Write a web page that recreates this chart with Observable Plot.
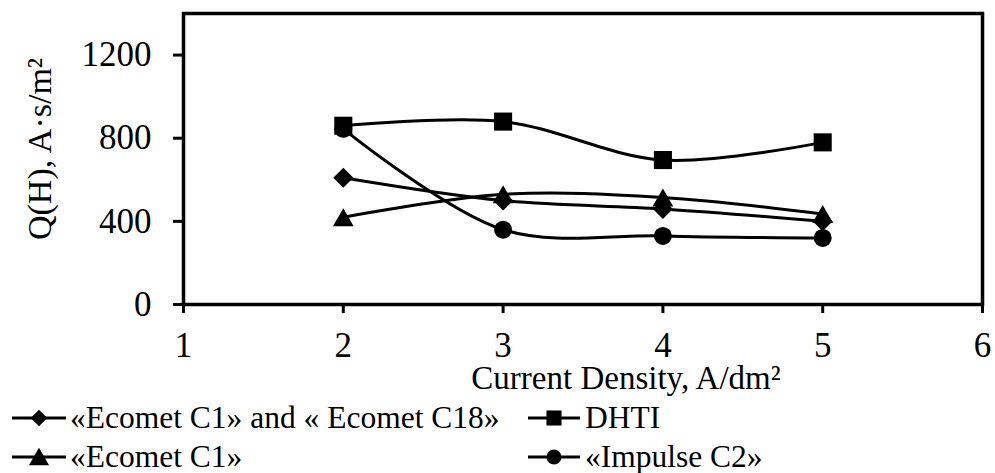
<!DOCTYPE html>
<html>
<head>
<meta charset="utf-8">
<script src="https://cdn.jsdelivr.net/npm/d3@7"></script>
<script src="https://cdn.jsdelivr.net/npm/@observablehq/plot@0.6"></script>
<style>
  html, body { margin: 0; padding: 0; background: #fff; }
  #chart { position: relative; width: 995px; height: 473px; color: #000; }
  #chart svg.plot { position: absolute; left: 0; top: 0; }
  .legend-item { position: absolute; height: 32px; }
  .legend-item svg { position: absolute; left: 0; top: 0; overflow: visible; }
  .legend-item span { position: absolute; top: 0; font-family: "Liberation Serif", "Times New Roman", serif; font-size: 31.5px; line-height: 32px; white-space: pre; }
</style>
</head>
<body>
<div id="chart"></div>
<script>
// Current density, A/dm²
const currentDensity = [2, 3, 4, 5];
// Q(H), A·s/m² for each electrolyte
const ecometC1C18 = [610, 500, 460, 400];
const dhti = [860, 880, 695, 780];
const ecometC1 = [420, 530, 515, 435];
const impulseC2 = [845, 360, 330, 320];

const seriesNames = ["«Ecomet C1» and « Ecomet C18»", "DHTI", "«Ecomet C1»", "«Impulse C2»"];
const xTicks = [1, 2, 3, 4, 5, 6];
const yTicks = [0, 400, 800, 1200];

const seriesValues = [ecometC1C18, dhti, ecometC1, impulseC2];
const symbols = ["diamond2", "square", "triangle", "circle"];
const radii = [9, 10.2, 7.7, 9];
const symbolShift = [0, 0, 3, 0];

const rows = seriesNames.flatMap((name, s) =>
  currentDensity.map((x, i) => ({series: name, x, q: seriesValues[s][i]}))
);

const font = "'Liberation Serif', 'Times New Roman', serif";

// Draw order: diamonds, triangles, circles, squares on top
const drawOrder = [0, 2, 3, 1];

const plot = Plot.plot({
  width: 995,
  height: 473,
  marginLeft: 183,
  marginRight: 13,
  marginTop: 13,
  marginBottom: 169,
  x: {domain: [1, 6]},
  y: {domain: [0, 1400]},
  style: {fontFamily: font, color: "black", background: "white", overflow: "visible"},
  marks: [
    Plot.frame({stroke: "black", strokeWidth: 3.5}),
    Plot.axisX({ticks: xTicks, tickSize: 9, tickPadding: 19, tickFormat: d => String(d), fontSize: 35, strokeWidth: 3, label: null}),
    Plot.axisY({ticks: yTicks, tickSize: 10, tickPadding: 22, tickFormat: d => String(d), fontSize: 35, strokeWidth: 3, label: null}),
    ...drawOrder.map(s => Plot.line(rows.filter(d => d.series === seriesNames[s]), {
      x: "x", y: "q", stroke: "black", strokeWidth: 3, curve: "catmull-rom"
    })),
    ...drawOrder.map(s => Plot.dot(rows.filter(d => d.series === seriesNames[s]), {
      x: "x", y: "q", symbol: () => symbols[s], r: radii[s], fill: "black", stroke: "none", dy: symbolShift[s]
    })),
    Plot.text(["Current Density, A/dm²"], {
      text: d => d, frameAnchor: "bottom", textAnchor: "middle", dx: 43, dy: 84, fontSize: 33, fill: "black"
    }),
    Plot.text(["Q(H), A·s/m²"], {
      text: d => d, frameAnchor: "left", textAnchor: "middle", lineAnchor: "middle", dx: -143, dy: -10, rotate: -90, fontSize: 34, fill: "black"
    })
  ]
});
plot.classList.add("plot");
const chart = document.getElementById("chart");
chart.appendChild(plot);

// Legend: two columns, filled row by row
const legendPos = [
  {line: [12, 66], marker: 39, text: 70, y: 418},
  {line: [528, 580], marker: 554, text: 585, y: 418},
  {line: [12, 66], marker: 39, text: 70, y: 457},
  {line: [528, 580], marker: 554, text: 585, y: 457}
];
const d3Symbols = {diamond2: d3.symbolDiamond2, square: d3.symbolSquare, triangle: d3.symbolTriangle, circle: d3.symbolCircle};
const legendR = [7.5, 8.5, 7.5, 7.5];
seriesNames.forEach((name, s) => {
  const p = legendPos[s];
  const item = document.createElement("div");
  item.className = "legend-item";
  item.style.left = "0px";
  item.style.top = (p.y - 16) + "px";
  const svg = d3.create("svg").attr("width", 1).attr("height", 1);
  svg.append("line")
    .attr("x1", p.line[0]).attr("x2", p.line[1]).attr("y1", 16).attr("y2", 16)
    .attr("stroke", "black").attr("stroke-width", 3);
  svg.append("path")
    .attr("transform", `translate(${p.marker},${16 + symbolShift[s] * 0.8})`)
    .attr("d", d3.symbol(d3Symbols[symbols[s]], Math.PI * legendR[s] * legendR[s])())
    .attr("fill", "black");
  item.appendChild(svg.node());
  const span = document.createElement("span");
  span.style.left = p.text + "px";
  span.textContent = name;
  item.appendChild(span);
  chart.appendChild(item);
});
</script>
</body>
</html>
